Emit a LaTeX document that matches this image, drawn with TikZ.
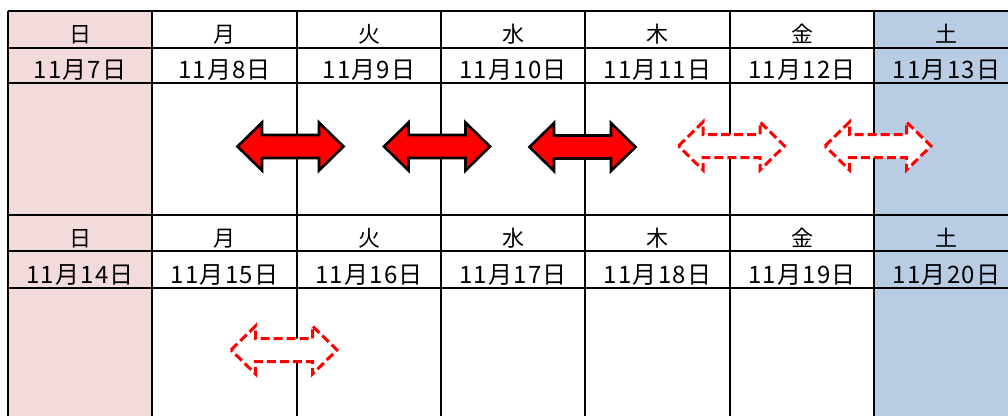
\documentclass[tikz,border=0pt]{standalone}
\usepackage{fontspec}
\newfontfamily\jpdate[LetterSpace=5]{Noto Sans CJK JP}
\newfontfamily\jphead{Noto Sans CJK JP}
\definecolor{sunfill}{HTML}{F2DCDB}
\definecolor{satfill}{HTML}{B8CCE4}
\definecolor{arrred}{HTML}{FF0000}
\tikzset{
  dblarrow/.pic={
    \path[pic actions] (-53,0) -- (-28.5,-24) -- (-28.5,-11.5) -- (28.5,-11.5)
      -- (28.5,-24) -- (53,0) -- (28.5,24) -- (28.5,11.5) -- (-28.5,11.5)
      -- (-28.5,24) -- cycle;
  },
  gridline/.style={draw=black, line width=1.6pt},
  hdr/.style={anchor=base, inner sep=0pt, font=\jphead\fontsize{22pt}{22pt}\selectfont},
  datetxt/.style={anchor=base, inner sep=0pt, font=\jpdate\fontsize{24pt}{24pt}\selectfont},
  solidarrow/.style={draw=black, fill=arrred, line width=2.6pt, line join=miter},
  dasharrow/.style={draw=arrred, fill=white, line width=3pt, dash pattern=on 9pt off 4pt, line join=miter}
}
\begin{document}
\begin{tikzpicture}[x=1pt,y=-1pt]
\useasboundingbox (0,0) rectangle (1008,416);
\begin{scope}
\clip (0,0) rectangle (1008,416);
% column fills
\fill[sunfill] (8,11) rectangle (152,416);
\fill[satfill] (874,11) rectangle (1008,416);
% grid
\foreach \y in {11,48,83,215,251,288}
  \draw[gridline] (8,\y) -- (1008,\y);
\foreach \x in {8,152,297,441,585,730,874}
  \draw[gridline] (\x,11) -- (\x,416);
\end{scope}
% texts
\foreach \x/\d/\a/\b [count=\i] in {80/日/7/14, 224.5/月/8/15, 369/火/9/16,
    513/水/10/17, 657.5/木/11/18, 802/金/12/19, 946.5/土/13/20} {
  \node[hdr] (hA\i) at (\x,42) {\d};
  \node[datetxt] (dA\i) at (\x,78) {11月\a 日};
  \node[hdr] (hB\i) at (\x,246) {\d};
  \node[datetxt] (dB\i) at (\x,283) {11月\b 日};
}
% arrows
\pic[solidarrow] at (290.5,146.5) {dblarrow};
\pic[solidarrow] at (437,146.5) {dblarrow};
\pic[solidarrow] at (582.5,147) {dblarrow};
\pic[dasharrow] at (731.5,146) {dblarrow};
\pic[dasharrow] at (878,146) {dblarrow};
\pic[dasharrow] at (284,350) {dblarrow};
\end{tikzpicture}
\end{document}
